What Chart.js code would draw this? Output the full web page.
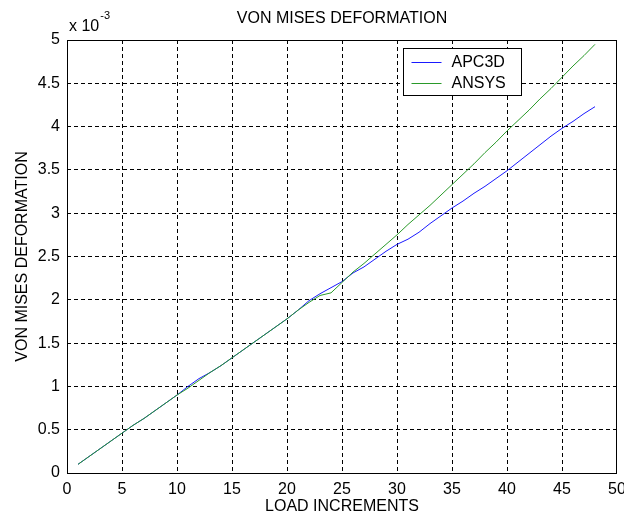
<!DOCTYPE html>
<html>
<head>
<meta charset="utf-8">
<script src="https://cdn.jsdelivr.net/npm/chart.js@4/dist/chart.umd.min.js"></script>
<style>
  html, body { margin: 0; padding: 0; background: #ffffff; }
  #wrap { width: 624px; height: 515px; }
</style>
</head>
<body>
<div id="wrap"><canvas id="c" width="624" height="515"></canvas></div>
<script>
// ---- Data (deformation values in units of 10^-3) ----
const loadIncrements = [1,2,3,4,5,6,7,8,9,10,11,12,13,14,15,16,17,18,19,20,21,22,23,24,25,26,27,28,29,30,31,32,33,34,35,36,37,38,39,40,41,42,43,44,45,46,47,48];
const apc3d = [0.10,0.19,0.28,0.37,0.46,0.55,0.63,0.72,0.81,0.90,1.00,1.09,1.16,1.24,1.33,1.42,1.51,1.60,1.69,1.78,1.88,1.99,2.07,2.14,2.21,2.31,2.38,2.47,2.56,2.64,2.70,2.78,2.88,2.97,3.06,3.14,3.23,3.31,3.40,3.49,3.59,3.69,3.79,3.89,3.98,4.06,4.15,4.23];
const ansys = [0.10,0.19,0.28,0.37,0.46,0.55,0.63,0.72,0.81,0.90,0.98,1.07,1.16,1.24,1.33,1.42,1.51,1.60,1.69,1.78,1.88,1.97,2.05,2.08,2.20,2.32,2.42,2.53,2.64,2.75,2.87,2.98,3.09,3.21,3.33,3.45,3.57,3.70,3.82,3.95,4.07,4.19,4.32,4.44,4.57,4.70,4.82,4.95];
const seriesNames = ['APC3D', 'ANSYS'];
const seriesColors = ['#1a1aff', '#2a9a2a'];
const chartTitle = 'VON MISES DEFORMATION';
const xTitle = 'LOAD INCREMENTS';
const yTitle = 'VON MISES DEFORMATION';
const yMultiplier = ['x 10', '-3'];

const FONT = "'Liberation Sans', Arial, Helvetica, sans-serif";

const toPoints = (xs, ys) => xs.map((x, i) => ({ x: x, y: ys[i] }));

const decor = {
  id: 'decor',
  afterDraw(chart) {
    const ctx = chart.ctx;
    const a = chart.chartArea;
    ctx.save();
    // frame
    ctx.strokeStyle = '#000';
    ctx.lineWidth = 1;
    ctx.setLineDash([]);
    ctx.strokeRect(Math.round(a.left) + 0.5, Math.round(a.top) + 0.5, Math.round(a.right - a.left) - 1, Math.round(a.bottom - a.top));
    // title
    ctx.fillStyle = '#000';
    ctx.font = '16px ' + FONT;
    ctx.textAlign = 'center';
    ctx.textBaseline = 'middle';
    ctx.fillText(chartTitle, (a.left + a.right) / 2, 19);
    // multiplier
    ctx.textAlign = 'left';
    ctx.fillText(yMultiplier[0], a.left + 2, 27);
    const w = ctx.measureText(yMultiplier[0]).width;
    ctx.font = '11px ' + FONT;
    ctx.fillText(yMultiplier[1], a.left + 2 + w + 1, 16);
    // legend
    const bx = 403.5, by = 48.5, bw = 118, bh = 47;
    ctx.fillStyle = '#fff';
    ctx.fillRect(bx, by, bw, bh);
    ctx.strokeStyle = '#000';
    ctx.strokeRect(bx, by, bw, bh);
    ctx.font = '16px ' + FONT;
    ctx.textBaseline = 'middle';
    const rows = [62, 83];
    for (let i = 0; i < 2; i++) {
      ctx.strokeStyle = seriesColors[i];
      ctx.beginPath();
      ctx.moveTo(bx + 8, rows[i] + 0.5);
      ctx.lineTo(bx + 38, rows[i] + 0.5);
      ctx.stroke();
      ctx.fillStyle = '#000';
      ctx.fillText(seriesNames[i], bx + 48, rows[i] + 1);
    }
    ctx.restore();
  }
};

const gridColor = (ctx) => {
  const scale = ctx.scale;
  if (!ctx.tick) return 'rgba(0,0,0,0)';
  const v = ctx.tick.value;
  return (v === scale.min || v === scale.max) ? 'rgba(0,0,0,0)' : '#000';
};

new Chart(document.getElementById('c'), {
  type: 'line',
  data: {
    datasets: [
      { label: seriesNames[0], data: toPoints(loadIncrements, apc3d), borderColor: seriesColors[0], borderWidth: 1, pointRadius: 0, tension: 0, fill: false, order: 2 },
      { label: seriesNames[1], data: toPoints(loadIncrements, ansys), borderColor: seriesColors[1], borderWidth: 1, pointRadius: 0, tension: 0, fill: false, order: 1 }
    ]
  },
  options: {
    responsive: false,
    animation: false,
    devicePixelRatio: 1,
    layout: { padding: { left: 0, right: 7, top: 40, bottom: 0 } },
    plugins: { legend: { display: false }, title: { display: false }, tooltip: { enabled: false } },
    scales: {
      x: {
        type: 'linear', min: 0, max: 50,
        ticks: { stepSize: 5, color: '#000', font: { family: FONT, size: 16 }, padding: 7, maxRotation: 0, autoSkip: false },
        grid: { color: gridColor, lineWidth: 1, drawTicks: false },
        border: { display: false, dash: [4, 3] },
        title: { display: true, text: xTitle, color: '#000', font: { family: FONT, size: 16, lineHeight: 1 }, padding: { top: 0, bottom: 0 } },
        afterFit(s) { s.height = 42; s.paddingLeft = 0; s.paddingRight = 0; }
      },
      y: {
        type: 'linear', min: 0, max: 5,
        ticks: { stepSize: 0.5, color: '#000', font: { family: FONT, size: 16 }, padding: 7, callback: (v) => String(Math.round(v * 10) / 10) },
        grid: { color: gridColor, lineWidth: 1, drawTicks: false },
        border: { display: false, dash: [4, 3] },
        title: { display: true, text: yTitle, color: '#000', font: { family: FONT, size: 16, lineHeight: 1 }, padding: { top: 15, bottom: 0 } },
        afterFit(s) { s.width = 67; s.paddingTop = 0; s.paddingBottom = 0; }
      }
    }
  },
  plugins: [decor]
});
</script>
</body>
</html>
